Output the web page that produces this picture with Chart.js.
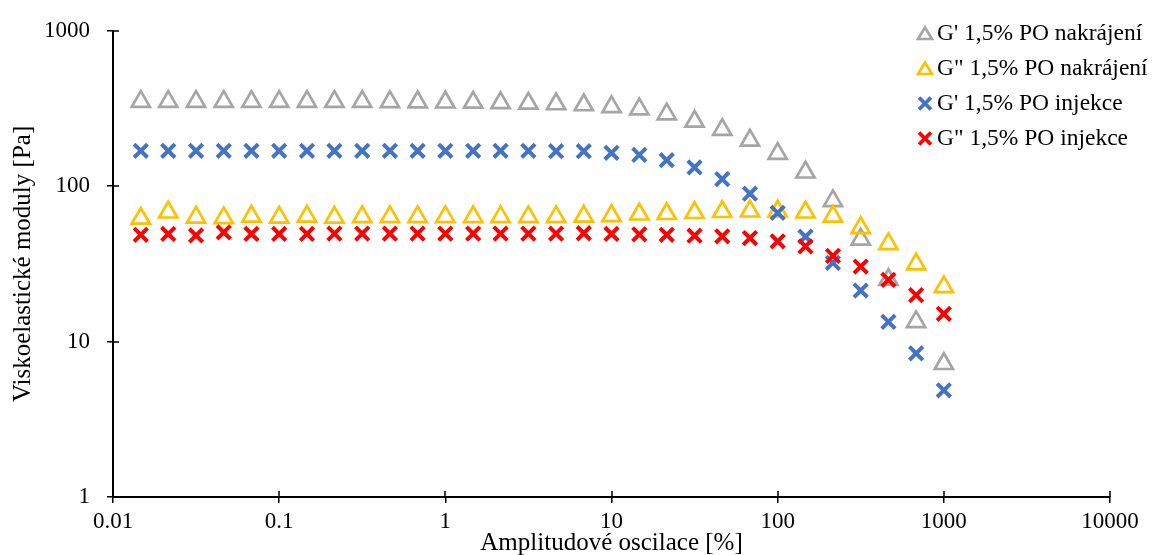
<!DOCTYPE html>
<html>
<head>
<meta charset="utf-8">
<script src="https://cdn.jsdelivr.net/npm/chart.js@4.4.0/dist/chart.umd.min.js"></script>
<style>
    html, body { margin: 0; padding: 0; background: #fff; }
    #wrap { width: 1153px; height: 555px; }
</style>
</head>
<body>
<div id="wrap"><canvas id="modulyChart"></canvas></div>
<script>
// amplitude sweep [%]
const amplitude = [0.0147, 0.0215, 0.0316, 0.0464, 0.0681, 0.1, 0.147, 0.215, 0.316, 0.464, 0.681, 1,
    1.47, 2.15, 3.16, 4.64, 6.81, 10, 14.7, 21.5, 31.6, 46.4, 68.1, 100, 147, 215, 316, 464, 681, 1000];

// moduli [Pa]
const gPrimeCut = [350, 350, 350, 350, 350, 350, 350, 350, 350, 349, 348, 347,
    346, 344, 341, 338, 333, 324, 313, 291, 261, 231, 197, 162, 123, 80.4, 45.5, 25, 13.4, 7.2];
const gDoubleCut = [62, 68, 63, 62.5, 64, 63, 64, 63, 63.5, 63.5, 63.5, 63.5,
    63.5, 63.5, 63.5, 63.5, 64, 64.5, 66, 66.5, 67.5, 68.5, 69, 69, 68, 64, 54, 42.5, 31.5, 22.5];
const gPrimeInj = [169, 169, 169, 169, 169, 169, 169, 169, 169, 169, 169, 169,
    169, 169, 169, 168, 168, 164, 159, 147, 132, 111, 89.5, 67.3, 47.3, 32.1, 21.3, 13.4, 8.4, 4.86];
const gDoubleInj = [48.7, 49.3, 48.2, 50.5, 49.3, 49.3, 49.3, 49.5, 49.5, 49.5, 49.5, 49.5,
    49.5, 49.5, 49.5, 49.5, 49.8, 49.3, 49, 48.7, 48, 47.6, 46.4, 44.2, 41, 35.6, 30.4, 25, 19.9, 15.1];

const seriesLabels = ["G' 1,5% PO nakrájení", 'G" 1,5% PO nakrájení', "G' 1,5% PO injekce", 'G" 1,5% PO injekce'];
const xTicks = [0.01, 0.1, 1, 10, 100, 1000, 10000];
const yTicks = [1, 10, 100, 1000];

const serif = '"Liberation Serif", "Times New Roman", serif';

function toPoints(values) {
    return amplitude.map((x, i) => ({ x: x, y: values[i] }));
}

function triangleSet(label, values, color, order) {
    return {
        label: label,
        data: toPoints(values),
        pointStyle: 'triangle',
        pointRadius: 10.5,
        pointBorderWidth: 2.7,
        borderColor: color,
        backgroundColor: 'transparent',
        order: order
    };
}

function crossSet(label, values, color, order) {
    return {
        label: label,
        data: toPoints(values),
        pointStyle: 'crossRot',
        pointRadius: 9.5,
        pointBorderWidth: 4,
        borderColor: color,
        backgroundColor: color,
        order: order
    };
}

// tick marks crossing into the plot area as well
const innerTicks = {
    id: 'innerTicks',
    afterDraw(chart) {
        const { ctx, chartArea, scales } = chart;
        ctx.save();
        ctx.strokeStyle = '#000';
        ctx.lineWidth = 1.5;
        ctx.beginPath();
        scales.x.ticks.forEach(t => {
            const px = Math.round(scales.x.getPixelForValue(t.value));
            ctx.moveTo(px, chartArea.bottom);
            ctx.lineTo(px, chartArea.bottom - 6);
        });
        scales.y.ticks.forEach(t => {
            const py = Math.round(scales.y.getPixelForValue(t.value));
            ctx.moveTo(chartArea.left, py);
            ctx.lineTo(chartArea.left + 6, py);
        });
        ctx.stroke();
        ctx.restore();
    }
};

// legend stacked in the upper right corner of the plot
const cornerLegend = {
    id: 'cornerLegend',
    afterDraw(chart) {
        const ctx = chart.ctx;
        const mx = chart.width - 228;
        ctx.save();
        ctx.font = '23.5px ' + serif;
        ctx.textBaseline = 'middle';
        ctx.textAlign = 'left';
        chart.data.datasets.forEach((ds, i) => {
            const y = 33.5 + i * 35;
            ctx.strokeStyle = ds.borderColor;
            ctx.beginPath();
            if (ds.pointStyle === 'triangle') {
                ctx.lineWidth = 2.7;
                ctx.moveTo(mx - 7, y + 5.5);
                ctx.lineTo(mx + 7, y + 5.5);
                ctx.lineTo(mx, y - 6);
                ctx.closePath();
            } else {
                ctx.lineWidth = 3.8;
                ctx.moveTo(mx - 6, y - 6);
                ctx.lineTo(mx + 6, y + 6);
                ctx.moveTo(mx + 6, y - 6);
                ctx.lineTo(mx - 6, y + 6);
            }
            ctx.stroke();
            ctx.fillStyle = '#000';
            ctx.fillText(ds.label, mx + 12, y);
        });
        ctx.restore();
    }
};

const ctx = document.getElementById('modulyChart').getContext('2d');
window.modulyChart = new Chart(ctx, {
    type: 'scatter',
    data: {
        datasets: [
            triangleSet(seriesLabels[0], gPrimeCut, '#A5A5A5', 4),
            triangleSet(seriesLabels[1], gDoubleCut, '#FFC000', 3),
            crossSet(seriesLabels[2], gPrimeInj, '#4472C4', 2),
            crossSet(seriesLabels[3], gDoubleInj, '#FF0000', 1)
        ]
    },
    options: {
        responsive: true,
        maintainAspectRatio: false,
        animation: false,
        layout: {
            padding: { top: 25, right: 43, left: 0, bottom: 0 }
        },
        plugins: {
            legend: { display: false },
            tooltip: { enabled: false }
        },
        scales: {
            x: {
                type: 'logarithmic',
                min: 0.01,
                max: 10000,
                afterBuildTicks: function (scale) {
                    scale.ticks = xTicks.map(v => ({ value: v }));
                },
                afterFit: function (scale) {
                    scale.height = 58;
                },
                border: { color: '#000', width: 2 },
                grid: {
                    drawOnChartArea: false,
                    drawTicks: true,
                    tickLength: 6,
                    color: '#000',
                    lineWidth: 1.5
                },
                ticks: {
                    color: '#000',
                    padding: 5,
                    maxRotation: 0,
                    autoSkip: false,
                    font: { family: serif, size: 23 },
                    callback: v => String(v)
                },
                title: {
                    display: true,
                    text: 'Amplitudové oscilace [%]',
                    color: '#000',
                    padding: { top: 0, bottom: 0 },
                    font: { family: serif, size: 25, lineHeight: 0.9 }
                }
            },
            y: {
                type: 'logarithmic',
                min: 1,
                max: 1000,
                afterBuildTicks: function (scale) {
                    scale.ticks = yTicks.map(v => ({ value: v }));
                },
                afterFit: function (scale) {
                    scale.width = 113;
                },
                border: { color: '#000', width: 2 },
                grid: {
                    drawOnChartArea: false,
                    drawTicks: true,
                    tickLength: 6,
                    color: '#000',
                    lineWidth: 1.5
                },
                ticks: {
                    color: '#000',
                    padding: 17,
                    autoSkip: false,
                    font: { family: serif, size: 23 },
                    callback: v => String(v)
                },
                title: {
                    display: true,
                    text: 'Viskoelastické moduly [Pa]',
                    color: '#000',
                    padding: { top: 8, bottom: 0 },
                    font: { family: serif, size: 25 }
                }
            }
        }
    },
    plugins: [innerTicks, cornerLegend]
});
</script>
</body>
</html>
